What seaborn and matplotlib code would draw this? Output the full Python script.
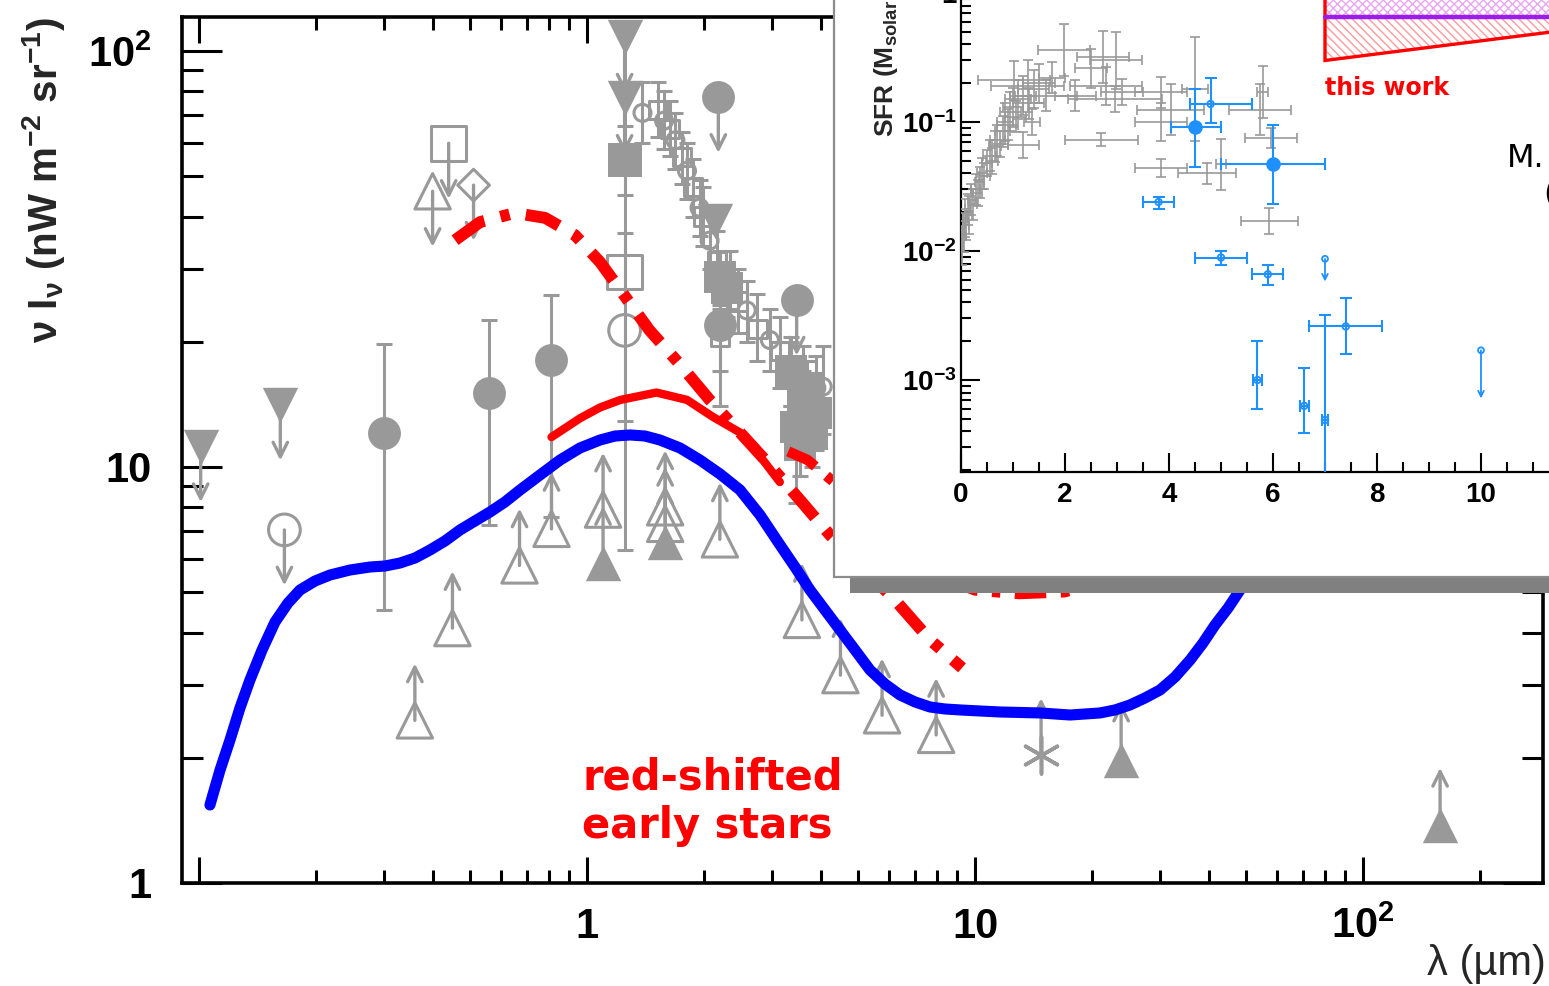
import numpy as np
import matplotlib
matplotlib.use("Agg")
import matplotlib.pyplot as plt
import seaborn as sns
from matplotlib.patches import Rectangle, Polygon
from matplotlib.ticker import FixedLocator, NullFormatter, FixedFormatter

# ======================= DATA : main panel (EBL spectrum) =======================
# blue model curve
sed_lam = [0.1067, 0.1133, 0.1202, 0.1275, 0.1353, 0.1454, 0.1570, 0.1696, 0.1821, 0.1991,
           0.2176, 0.2449, 0.2759, 0.3016, 0.3296, 0.3603, 0.3938, 0.4305, 0.4707, 0.5144,
           0.5623, 0.6146, 0.6722, 0.7566, 0.8519, 0.9593, 1.080, 1.181, 1.291, 1.411,
           1.542, 1.737, 1.956, 2.202, 2.479, 2.792, 3.144, 3.436, 3.756, 4.106,
           4.488, 4.906, 5.363, 5.861, 6.409, 7.005, 7.656, 8.369, 9.149, 10.30,
           11.60, 13.06, 14.71, 17.58, 21.00, 22.95, 25.09, 27.43, 29.99, 32.78,
           35.84, 38.69, 41.55, 44.89, 48.20, 52.68, 57.59, 68.81]
sed_I = [1.540, 1.869, 2.207, 2.634, 3.076, 3.633, 4.241, 4.711, 5.062, 5.321,
         5.500, 5.654, 5.749, 5.781, 5.877, 6.042, 6.316, 6.640, 7.057, 7.417,
         7.796, 8.240, 8.806, 9.568, 10.39, 11.11, 11.61, 11.87, 11.94, 11.87,
         11.61, 11.11, 10.39, 9.621, 8.806, 7.667, 6.494, 5.749, 5.062, 4.532,
         4.057, 3.633, 3.251, 3.008, 2.831, 2.724, 2.649, 2.620, 2.606, 2.591,
         2.577, 2.570, 2.563, 2.534, 2.563, 2.606, 2.679, 2.785, 2.911, 3.128,
         3.436, 3.776, 4.170, 4.582, 5.062, 5.813, 6.675, 8.330]
# red solid curve
rs_lam = [0.81, 0.96, 1.08, 1.22, 1.51, 1.81, 2.11, 2.48, 2.84, 3.14]
rs_I = [11.8, 13.1, 13.9, 14.5, 15.1, 14.5, 13.2, 12.1, 10.4, 9.2]
# red dash-dot curve (red-shifted early stars, upper)
ra_lam = [0.457, 0.53, 0.652, 0.78, 0.931, 1.08, 1.22, 1.45, 1.74, 2.07, 2.48, 2.96, 3.54,
          4.23, 5.05, 6.22, 7.66, 9.26]
ra_I = [35.1, 38.8, 40.8, 39.7, 36.1, 31.1, 26.6, 21.3, 17.6, 14.5, 12.1, 10.1, 8.33,
        6.86, 5.81, 4.79, 3.84, 3.29]
# red dash-dot curve (lower)
rb_lam = [3.3, 3.7, 4.1, 5.0, 6.5, 8.5, 10.0, 13.0, 17.0, 20.0, 25.0]
rb_I = [10.9, 10.4, 9.6, 8.2, 6.6, 5.35, 5.05, 4.95, 5.0, 5.2, 5.7]

# upper limits: filled down-triangles
ulv_lam = [0.101, 0.162, 1.25, 1.25]
ulv_I = [11.2, 14.1, 108.0, 77.0]
# filled down-triangle (no arrow)
fv_lam = [2.14]
fv_I = [39.0]
# upper limit: open circle
ulo_lam = [0.166]
ulo_I = [7.06]
# upper limits: filled circles
ulfc_lam = [2.18, 3.47]
ulfc_I = [77.4, 25.2]
# upper limits: open square, open triangle, open diamond
ulsq_lam = [0.44]
ulsq_I = [60.0]
ultri_lam = [0.40]
ultri_I = [46.0]
uldia_lam = [0.51]
uldia_I = [47.6]
# filled circles with error bars
fc_lam = [0.30, 0.56, 0.81, 2.20]
fc_I = [12.1, 15.1, 18.1, 22.0]
fc_lo = [4.53, 7.26, 7.6, 14.0]
fc_hi = [19.7, 22.6, 25.9, 27.0]
# lower limits: open up-triangles
llo_lam = [0.36, 0.45, 0.67, 0.81, 1.10, 1.59, 1.59, 2.20, 3.58, 4.50, 5.76, 7.94]
llo_I = [2.46, 4.10, 5.80, 7.10, 7.90, 7.30, 8.00, 6.70, 4.29, 3.16, 2.53, 2.27]
# lower limits: filled up-triangles
llf_lam = [1.10, 1.59, 23.8, 158.0]
llf_I = [5.88, 6.60, 1.98, 1.38]
# lower limit: asterisk
lla_lam = [14.8]
lla_I = [2.03]
# 1.25 micron stack
stk_sq_lam = [1.25]
stk_sq_I = [29.4]
stk_sq_lo = [6.3]
stk_sq_hi = [108.0]
stk_fsq_lam = [1.25]
stk_fsq_I = [54.7]
stk_fsq_lo = [45.0]
stk_fsq_hi = [66.0]
stk_oc_lam = [1.25]
stk_oc_I = [21.3]
stk_oc_lo = [12.9]
stk_oc_hi = [36.6]
# descending near-IR series
dsq_lam = [1.52, 1.64, 1.76, 1.88, 1.99, 2.16, 2.20, 2.45, 2.75, 3.15, 3.60]
dsq_I = [72.0, 65.0, 55.6, 47.0, 40.0, 31.3, 20.5, 25.0, 21.5, 19.0, 16.0]
dsq_lo = [62.0, 56.0, 48.0, 40.0, 34.0, 26.5, 17.0, 21.0, 18.0, 15.5, 13.0]
dsq_hi = [84.0, 76.0, 64.0, 55.0, 47.0, 37.0, 24.5, 30.0, 26.0, 23.0, 19.5]
doc_lam = [1.39, 1.58, 1.69, 1.81, 1.95, 2.07, 2.33, 2.58, 2.96, 3.35, 3.90, 4.05]
doc_I = [71.0, 68.0, 61.0, 51.5, 42.0, 35.0, 28.0, 23.8, 20.2, 17.0, 15.5, 15.6]
doc_lo = [60.0, 58.0, 52.0, 44.0, 36.0, 30.0, 24.0, 20.0, 17.0, 14.0, 12.5, 12.0]
doc_hi = [84.0, 80.0, 71.0, 60.0, 49.0, 41.0, 33.0, 28.0, 24.0, 20.5, 18.5, 19.5]
# filled squares with error bars
fsq_lam = [2.20, 2.30, 3.35, 3.45, 3.55, 3.60, 3.70, 3.80, 3.90]
fsq_I = [28.6, 27.0, 17.0, 12.5, 11.3, 14.5, 15.5, 12.0, 13.5]
fsq_lo = [24.0, 23.0, 14.0, 8.2, 9.5, 12.0, 13.0, 10.0, 11.0]
fsq_hi = [33.0, 31.0, 20.0, 16.0, 13.5, 17.0, 18.0, 14.5, 16.0]

x_ticks = [0.1, 1, 10, 100]
x_ticklabels = ["", "1", "10", r"$\mathbf{10^{2}}$"]
y_ticks = [1, 10, 100]
y_ticklabels = ["1", "10", r"$\mathbf{10^{2}}$"]

# ======================= DATA : inset (cosmic SFR density) =======================
g_z = [0.02, 0.04, 0.06, 0.08, 0.10, 0.13, 0.16, 0.20, 0.24, 0.28, 0.32, 0.36, 0.40, 0.45, 0.50,
       0.55, 0.60, 0.65, 0.70, 0.75, 0.80, 0.85, 0.90, 0.95, 1.00, 1.05, 1.10, 1.20, 1.30, 1.40,
       1.02, 1.20, 1.28, 1.37, 1.50, 1.64, 1.75, 1.98, 2.20, 2.50, 2.73, 2.79, 2.96, 2.98, 2.70,
       3.10, 3.85, 3.85, 4.03, 3.85, 4.50, 4.73, 5.00, 5.75, 5.80, 5.97, 5.93]
g_s = [0.011, 0.014, 0.013, 0.018, 0.016, 0.021, 0.019, 0.025, 0.023, 0.030, 0.028, 0.034, 0.040,
       0.038, 0.048, 0.055, 0.050, 0.065, 0.072, 0.068, 0.085, 0.100, 0.095, 0.120, 0.130, 0.110,
       0.150, 0.160, 0.140, 0.180,
       0.21, 0.066, 0.19, 0.10, 0.20, 0.16, 0.22, 0.36, 0.16, 0.26, 0.32, 0.19, 0.15, 0.30, 0.073,
       0.17, 0.17, 0.10, 0.125, 0.044, 0.18, 0.040, 0.047, 0.125, 0.17, 0.075, 0.017]
g_dz = [0.02, 0.03, 0.03, 0.04, 0.05, 0.05, 0.06, 0.06, 0.07, 0.08, 0.08, 0.09, 0.10, 0.10, 0.10,
        0.12, 0.12, 0.12, 0.15, 0.15, 0.15, 0.15, 0.2, 0.2, 0.2, 0.2, 0.25, 0.25, 0.3, 0.3,
        0.7, 0.3, 0.7, 0.15, 0.3, 0.6, 0.25, 0.5, 0.4, 0.3, 0.5, 0.7, 0.9, 0.5, 0.7,
        0.4, 0.5, 0.5, 0.65, 0.5, 0.25, 0.55, 0.1, 0.6, 0.1, 0.5, 0.55]
g_dex = [0.15, 0.15, 0.12, 0.15, 0.12, 0.12, 0.15, 0.12, 0.12, 0.12, 0.1, 0.12, 0.12, 0.1, 0.1,
         0.12, 0.1, 0.12, 0.12, 0.1, 0.12, 0.15, 0.12, 0.15, 0.15, 0.12, 0.15, 0.15, 0.12, 0.15,
         0.15, 0.1, 0.2, 0.1, 0.15, 0.12, 0.12, 0.2, 0.12, 0.15, 0.2, 0.15, 0.1, 0.22, 0.05,
         0.1, 0.12, 0.15, 0.2, 0.07, 0.4, 0.08, 0.2, 0.2, 0.2, 0.08, 0.1]
# blue points, large filled
bb_z = [4.5, 6.0]
bb_s = [0.091, 0.047]
bb_zlo = [0.47, 1.0]
bb_zhi = [0.5, 1.0]
bb_lo = [0.045, 0.023]
bb_hi = [0.18, 0.095]
# blue points, small
bs_z = [4.8, 3.8, 5.0, 5.9, 7.4, 5.7, 6.6, 7.0]
bs_s = [0.138, 0.024, 0.0089, 0.0066, 0.0026, 0.0010, 0.00063, 0.00049]
bs_zlo = [0.4, 0.3, 0.5, 0.3, 0.7, 0.09, 0.09, 0.05]
bs_zhi = [0.8, 0.3, 0.5, 0.3, 0.7, 0.09, 0.09, 0.05]
bs_lo = [0.099, 0.021, 0.0078, 0.0055, 0.0016, 0.0006, 0.00039, 0.0001]
bs_hi = [0.22, 0.026, 0.010, 0.0078, 0.0043, 0.0020, 0.00125, 0.0032]
# blue upper limits
bu_z = [7.0, 10.0]
bu_s = [0.0087, 0.0017]
bu_end = [0.0058, 0.00072]
# "this work" band
tw_z = [7.0, 12.5]
tw_low = [0.30, 0.57]
tw_mid = 0.65
tw_top = 2.5
ix_ticks = [0, 2, 4, 6, 8, 10, 12, 14]
iy_ticks = [1e-3, 1e-2, 1e-1, 1]
iy_ticklabels = [r"$\mathbf{10^{-3}}$", r"$\mathbf{10^{-2}}$", r"$\mathbf{10^{-1}}$", "1"]

# ======================= STYLE =======================
sns.set_style("ticks")
plt.rcParams["font.family"] = ["Liberation Sans", "DejaVu Sans"]
plt.rcParams["mathtext.fontset"] = "custom"
plt.rcParams["mathtext.rm"] = "Liberation Sans"
plt.rcParams["mathtext.it"] = "Liberation Sans:italic"
plt.rcParams["mathtext.bf"] = "Liberation Sans:bold"
plt.rcParams["hatch.linewidth"] = 1.0

GRAY = "#999999"
SBLUE = "#1e90ff"
W, H = 1549, 986


def fx(p):
    return p / W


def fy(p):
    return 1 - p / H


fig = plt.figure(figsize=(W / 100, H / 100), dpi=100)
fig.patch.set_facecolor("white")

# ----------------------- main axes -----------------------
ax = fig.add_axes([fx(182), fy(883), (1543 - 182) / W, (883 - 17) / H], zorder=0)
ax.set_xscale("log")
ax.set_yscale("log")
ax.set_xlim(0.0904, 291)
ax.set_ylim(1, 120.7)
ax.set_facecolor("white")


def err(axis, xs, ys, lo, hi, lw=2.2, cap=6, color=GRAY, z=2):
    ys = np.asarray(ys, float)
    axis.errorbar(xs, ys, yerr=[ys - np.asarray(lo), np.asarray(hi) - ys], fmt="none",
                  ecolor=color, elinewidth=lw, capsize=cap, capthick=lw, zorder=z)


def arrows(axis, xs, ys, ends, color=GRAY, lw=2.4, scale=26, z=2.5):
    for x, y, e in zip(xs, ys, ends):
        axis.annotate("", xy=(x, e), xytext=(x, y),
                      arrowprops=dict(arrowstyle="->", color=color, lw=lw, shrinkA=0,
                                      shrinkB=0, mutation_scale=scale), zorder=z)


def pts(axis, xs, ys, marker, size, filled=True, color=GRAY, lw=2.2, z=3):
    if filled:
        sns.scatterplot(x=xs, y=ys, ax=axis, marker=marker, s=size, color=color,
                        edgecolor=color, linewidth=0, zorder=z, legend=False)
    else:
        sns.scatterplot(x=xs, y=ys, ax=axis, marker=marker, s=size, facecolors="none",
                        edgecolor=color, linewidth=lw, zorder=z, legend=False)


DOWN = 1 / 1.36
UP = 1.37

# error bars
err(ax, stk_sq_lam, stk_sq_I, stk_sq_lo, stk_sq_hi)
err(ax, stk_fsq_lam, stk_fsq_I, stk_fsq_lo, stk_fsq_hi)
err(ax, stk_oc_lam, stk_oc_I, stk_oc_lo, stk_oc_hi)
err(ax, fc_lam, fc_I, fc_lo, fc_hi)
err(ax, dsq_lam, dsq_I, dsq_lo, dsq_hi, cap=6)
err(ax, doc_lam, doc_I, doc_lo, doc_hi, cap=6)
err(ax, fsq_lam, fsq_I, fsq_lo, fsq_hi, cap=6)

# limit arrows
arrows(ax, ulv_lam, ulv_I, [v * DOWN for v in ulv_I])
arrows(ax, ulo_lam, ulo_I, [v * DOWN for v in ulo_I])
arrows(ax, ulfc_lam, ulfc_I, [v * DOWN for v in ulfc_I])
arrows(ax, ulsq_lam, ulsq_I, [v * DOWN for v in ulsq_I])
arrows(ax, ultri_lam, ultri_I, [v * DOWN for v in ultri_I])
arrows(ax, uldia_lam, uldia_I, [v * DOWN for v in uldia_I])
arrows(ax, llo_lam, llo_I, [v * UP for v in llo_I])
arrows(ax, llf_lam, llf_I, [v * UP for v in llf_I])
arrows(ax, lla_lam, lla_I, [v * UP for v in lla_I])

# markers
pts(ax, ulv_lam, ulv_I, "v", 650)
pts(ax, fv_lam, fv_I, "v", 650)
pts(ax, ulo_lam, ulo_I, "o", 520, filled=False)
pts(ax, ulfc_lam, ulfc_I, "o", 560)
pts(ax, ulsq_lam, ulsq_I, "s", 620, filled=False)
pts(ax, ultri_lam, ultri_I, "^", 650, filled=False)
pts(ax, uldia_lam, uldia_I, "D", 260, filled=False)
pts(ax, fc_lam, fc_I, "o", 560)
pts(ax, llo_lam, llo_I, "^", 650, filled=False)
pts(ax, llf_lam, llf_I, "^", 650)
sns.scatterplot(x=lla_lam, y=lla_I, ax=ax, marker=(6, 2, 0), s=700, color=GRAY,
                linewidth=2.6, zorder=3, legend=False)
pts(ax, stk_sq_lam, stk_sq_I, "s", 620, filled=False)
pts(ax, stk_fsq_lam, stk_fsq_I, "s", 620)
pts(ax, stk_oc_lam, stk_oc_I, "o", 520, filled=False)
pts(ax, dsq_lam, dsq_I, "s", 170, filled=False)
pts(ax, doc_lam, doc_I, "o", 150, filled=False)
pts(ax, fsq_lam, fsq_I, "s", 500)

# curves
sns.lineplot(x=sed_lam, y=sed_I, ax=ax, sort=False, estimator=None, color="#0000ff",
             linewidth=8, zorder=5, legend=False)
sns.lineplot(x=rs_lam, y=rs_I, ax=ax, sort=False, estimator=None, color="#ff0000",
             linewidth=6, zorder=5, legend=False)
sns.lineplot(x=ra_lam, y=ra_I, ax=ax, sort=False, estimator=None, color="#ff0000",
             linewidth=8.5, linestyle=(0, (3.0, 1.4, 0.8, 1.4)), zorder=5, legend=False)
sns.lineplot(x=rb_lam, y=rb_I, ax=ax, sort=False, estimator=None, color="#ff0000",
             linewidth=7.5, linestyle=(0, (3.0, 1.4, 0.8, 1.4)), zorder=5, legend=False)

# axes styling
for s in ax.spines.values():
    s.set_linewidth(2.6)
    s.set_color("black")
ax.xaxis.set_major_locator(FixedLocator(x_ticks))
ax.xaxis.set_major_formatter(FixedFormatter(x_ticklabels))
ax.yaxis.set_major_locator(FixedLocator(y_ticks))
ax.yaxis.set_major_formatter(FixedFormatter(y_ticklabels))
ax.xaxis.set_minor_locator(FixedLocator([m * d for d in (0.1, 1, 10, 100) for m in range(2, 10)]))
ax.yaxis.set_minor_locator(FixedLocator([m * d for d in (1, 10) for m in range(2, 10)]))
ax.xaxis.set_minor_formatter(NullFormatter())
ax.yaxis.set_minor_formatter(NullFormatter())
ax.tick_params(which="both", direction="in", top=True, right=True, width=2.2, colors="black")
ax.tick_params(axis="x", which="major", length=19, pad=17, labelsize=30)
ax.tick_params(axis="x", which="minor", length=9.5)
ax.tick_params(axis="y", which="major", length=29, pad=22, labelsize=30)
ax.tick_params(axis="y", which="minor", length=15)
for lab in ax.get_xticklabels() + ax.get_yticklabels():
    lab.set_fontweight("bold")
ax.set_xlabel("")
ax.set_ylabel("")

fig.text(fx(44), fy(180), r"ν I$_{\mathbf{ν}}$ (nW m$^{\mathbf{-2}}$ sr$^{\mathbf{-1}}$)",
         rotation=90, ha="center", va="center", fontsize=29, fontweight="bold")
fig.text(fx(1546), fy(984), "λ (µm)", ha="right", va="bottom", fontsize=30)
fig.text(fx(582), fy(790), "red-shifted", ha="left", va="baseline", fontsize=30,
         fontweight="bold", color="#ff0000", family="DejaVu Sans", zorder=6)
fig.text(fx(582), fy(838), "early stars", ha="left", va="baseline", fontsize=30,
         fontweight="bold", color="#ff0000", family="DejaVu Sans", zorder=6)

# ----------------------- inset frame and shadow -----------------------
fig.add_artist(Rectangle((fx(850), fy(593)), 1.0, (593 - 577) / H, transform=fig.transFigure,
                         facecolor="#808080", edgecolor="none", zorder=3))
fig.add_artist(Rectangle((fx(834), fy(577)), 1.0, 1.0, transform=fig.transFigure,
                         facecolor="white", edgecolor="#8c8c8c", linewidth=1.6, zorder=4))

# ----------------------- inset axes -----------------------
ins = fig.add_axes([fx(961), fy(472), 14 * 52 / W, (472 + 71.5) / H], zorder=5)
ins.set_facecolor("none")
ins.set_yscale("log")
ins.set_xlim(0, 14)
ins.set_ylim(10 ** -3.713, 10 ** 0.5)

# this-work band
band_low = Polygon([(tw_z[0], tw_low[0]), (tw_z[1], tw_low[1]), (tw_z[1], tw_mid), (tw_z[0], tw_mid)],
                   closed=True, facecolor="none", edgecolor="#ff9a9a", hatch="\\\\\\\\",
                   linewidth=0, zorder=2)
band_top = Polygon([(tw_z[0], tw_mid), (tw_z[1], tw_mid), (tw_z[1], tw_top), (tw_z[0], tw_top)],
                   closed=True, facecolor="none", edgecolor="#e8a6f2", hatch="xxxx",
                   linewidth=0, zorder=2)
ins.add_patch(band_low)
ins.add_patch(band_top)
ins.add_patch(Polygon([(tw_z[0], tw_top), (tw_z[0], tw_low[0]), (tw_z[1], tw_low[1]), (tw_z[1], tw_top)],
                      closed=False, facecolor="none", edgecolor="#ff0000", linewidth=2.4, zorder=3))
sns.lineplot(x=tw_z, y=[tw_mid, tw_mid], ax=ins, color="#9b1de8", linewidth=3.2, zorder=4,
             legend=False)

# gray data
g_s_arr = np.asarray(g_s)
g_lo = g_s_arr / 10 ** np.asarray(g_dex)
g_hi = g_s_arr * 10 ** np.asarray(g_dex)
ins.errorbar(g_z, g_s_arr, xerr=g_dz, yerr=[g_s_arr - g_lo, g_hi - g_s_arr], fmt="none",
             ecolor=GRAY, elinewidth=1.2, capsize=3.5, capthick=1.2, zorder=3)

# blue data
bb = np.asarray(bb_s)
ins.errorbar(bb_z, bb, xerr=[bb_zlo, bb_zhi], yerr=[bb - np.asarray(bb_lo), np.asarray(bb_hi) - bb],
             fmt="none", ecolor=SBLUE, elinewidth=1.5, capsize=4, capthick=1.5, zorder=4)
bs = np.asarray(bs_s)
ins.errorbar(bs_z, bs, xerr=[bs_zlo, bs_zhi], yerr=[bs - np.asarray(bs_lo), np.asarray(bs_hi) - bs],
             fmt="none", ecolor=SBLUE, elinewidth=1.5, capsize=4, capthick=1.5, zorder=4)
sns.scatterplot(x=bb_z, y=bb_s, ax=ins, marker="o", s=110, color=SBLUE, edgecolor=SBLUE,
                linewidth=0, zorder=5, legend=False)
sns.scatterplot(x=bs_z, y=bs_s, ax=ins, marker="o", s=22, facecolors="none", edgecolor=SBLUE,
                linewidth=1.3, zorder=5, legend=False)
sns.scatterplot(x=bu_z, y=bu_s, ax=ins, marker="o", s=18, facecolors="none", edgecolor=SBLUE,
                linewidth=1.3, zorder=5, legend=False)
arrows(ins, bu_z, bu_s, bu_end, color=SBLUE, lw=1.3, scale=10, z=4)

for side in ("top", "right"):
    ins.spines[side].set_visible(False)
for side in ("left", "bottom"):
    ins.spines[side].set_linewidth(1.6)
    ins.spines[side].set_color("black")
ins.xaxis.set_major_locator(FixedLocator(ix_ticks))
ins.xaxis.set_minor_locator(FixedLocator([v / 2 for v in range(0, 29)]))
ins.xaxis.set_minor_formatter(NullFormatter())
ins.yaxis.set_major_locator(FixedLocator(iy_ticks))
ins.yaxis.set_major_formatter(FixedFormatter(iy_ticklabels))
ins.yaxis.set_minor_locator(FixedLocator([m * d for d in (1e-4, 1e-3, 1e-2, 1e-1, 1) for m in range(2, 10)]))
ins.yaxis.set_minor_formatter(NullFormatter())
ins.tick_params(which="both", direction="in", width=1.5, colors="black", top=False, right=False)
ins.tick_params(which="major", length=14, labelsize=20)
ins.tick_params(which="minor", length=7)
ins.tick_params(axis="y", which="major", pad=3)
ins.tick_params(axis="x", which="major", pad=7)
for lab in ins.get_xticklabels() + ins.get_yticklabels():
    lab.set_fontweight("bold")
ins.set_xlabel("")
ins.set_ylabel("")

fig.text(fx(886), fy(137), r"SFR (M$_{\mathbf{solar}}$ yr$^{\mathbf{-1}}$ Mpc$^{\mathbf{-3}}$)",
         rotation=90, ha="center", va="bottom", fontsize=19, fontweight="bold", zorder=7)
fig.text(fx(1325), fy(95), "this work", ha="left", va="baseline", fontsize=17,
         fontweight="bold", color="#ff0000", family="DejaVu Sans", zorder=7)
fig.text(fx(1507), fy(167), "M.", ha="left", va="baseline", fontsize=23,
         family="DejaVu Sans", color="black", zorder=7)
fig.text(fx(1543), fy(203), "(", ha="left", va="baseline", fontsize=23,
         family="DejaVu Sans", color="black", zorder=7)

fig.savefig("out.png", dpi=100, facecolor="white")
